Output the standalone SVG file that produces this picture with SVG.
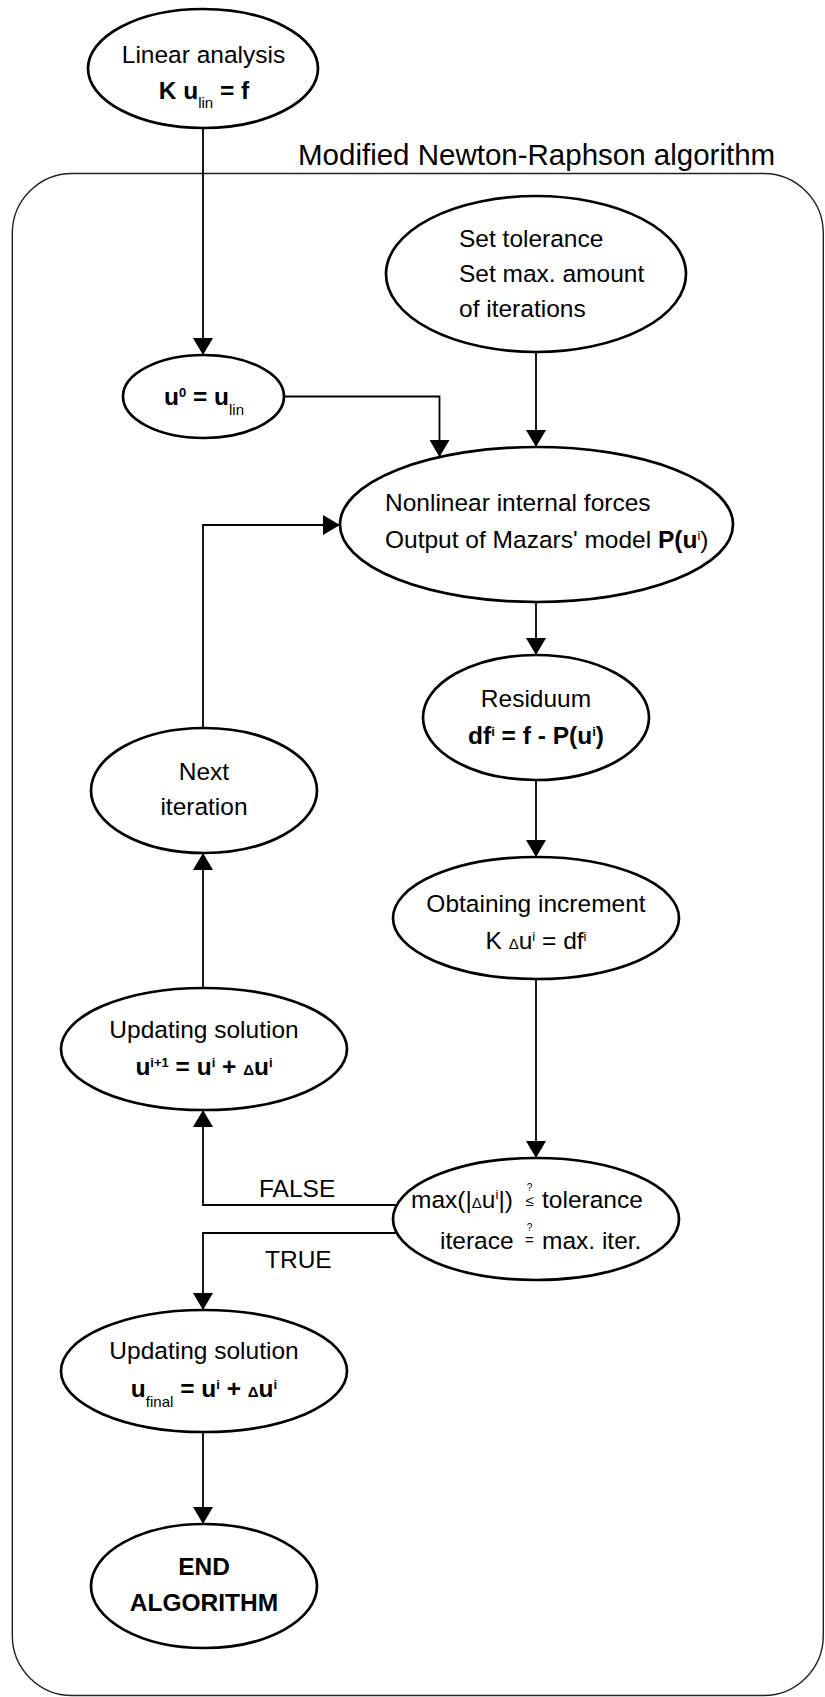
<svg xmlns="http://www.w3.org/2000/svg" width="825" height="1697" viewBox="0 0 825 1697">
<style>
text{font-family:"Liberation Sans",Arial,sans-serif;font-size:24.5px;fill:#000}
.m{text-anchor:middle}
.b{font-weight:bold}
.s{font-size:15px;font-weight:normal}
.sup{font-size:13px}
.d{font-size:15px}
.q{font-size:10px}
.title{font-size:29.5px}
ellipse{fill:#fff;stroke:#000;stroke-width:2.7}
.c{fill:none;stroke:#000;stroke-width:1.8}
.frame{fill:none;stroke:#222;stroke-width:1.4}
</style>
<defs>
<marker id="ah" markerUnits="userSpaceOnUse" markerWidth="17" markerHeight="20" viewBox="0 0 17 20" refX="17" refY="10" orient="auto">
<path d="M0,0 L17,10 L0,20 Z" fill="#000"/>
</marker>
</defs>
<g id="frame">
<rect class="frame" x="12.3" y="173.5" width="811" height="1522" rx="60" ry="60"/>
<text class="title" x="298" y="165">Modified Newton-Raphson algorithm</text>
</g>
<g id="connectors">
<path class="c" d="M203,128 V355" marker-end="url(#ah)"/>
<path class="c" d="M284,396.5 H439.5 V457" marker-end="url(#ah)"/>
<path class="c" d="M536,352 V447" marker-end="url(#ah)"/>
<path class="c" d="M536,602 V655" marker-end="url(#ah)"/>
<path class="c" d="M536,780 V857" marker-end="url(#ah)"/>
<path class="c" d="M536,979 V1158" marker-end="url(#ah)"/>
<path class="c" d="M397,1205 H203 V1110" marker-end="url(#ah)"/>
<path class="c" d="M397,1233 H203 V1310" marker-end="url(#ah)"/>
<path class="c" d="M203,988 V853" marker-end="url(#ah)"/>
<path class="c" d="M203,728 V525 H340" marker-end="url(#ah)"/>
<path class="c" d="M203,1432 V1524" marker-end="url(#ah)"/>
<text x="259" y="1197">FALSE</text>
<text x="265" y="1268">TRUE</text>
</g>
<g id="n_linear">
<ellipse cx="203" cy="68.5" rx="115" ry="59.5"/>
<text class="m" x="203.5" y="63">Linear analysis</text>
<text class="m b" x="204" y="99">K u<tspan class="s" dy="9">lin</tspan><tspan dy="-9"> = f</tspan></text>
</g>
<g id="n_set">
<ellipse cx="536" cy="274" rx="150" ry="78"/>
<text x="459" y="247">Set tolerance</text>
<text x="459" y="282">Set max. amount</text>
<text x="459" y="317">of iterations</text>
</g>
<g id="n_u0">
<ellipse cx="203.5" cy="396.5" rx="80.5" ry="41.5"/>
<text class="m b" x="204" y="405">u<tspan class="sup" dy="-8.5">0</tspan><tspan dy="8.5"> = u</tspan><tspan class="s" dy="10">lin</tspan></text>
</g>
<g id="n_nonlinear">
<ellipse cx="536.5" cy="524.5" rx="196.5" ry="77.5"/>
<text x="385" y="511">Nonlinear internal forces</text>
<text x="385" y="548">Output of Mazars' model <tspan class="b">P(u</tspan><tspan class="sup" dy="-8">i</tspan><tspan dy="8">)</tspan></text>
</g>
<g id="n_residuum">
<ellipse cx="536" cy="717.5" rx="113" ry="62.5"/>
<text class="m" x="536" y="707">Residuum</text>
<text class="m b" x="536" y="744">df<tspan class="sup" dy="-8">i</tspan><tspan dy="8"> = f - P(u</tspan><tspan class="sup" dy="-8">i</tspan><tspan dy="8">)</tspan></text>
</g>
<g id="n_next">
<ellipse cx="204" cy="790.5" rx="113" ry="62.5"/>
<text class="m" x="204" y="780">Next</text>
<text class="m" x="204" y="815">iteration</text>
</g>
<g id="n_obtain">
<ellipse cx="536" cy="918" rx="143" ry="61"/>
<text class="m" x="536" y="912">Obtaining increment</text>
<text class="m" x="536" y="949">K <tspan class="d">Δ</tspan>u<tspan class="sup" dy="-8">i</tspan><tspan dy="8"> = df</tspan><tspan class="sup" dy="-8">i</tspan></text>
</g>
<g id="n_update1">
<ellipse cx="204" cy="1049" rx="143" ry="61"/>
<text class="m" x="204" y="1038">Updating solution</text>
<text class="m b" x="204" y="1075">u<tspan class="sup" dy="-8">i+1</tspan><tspan dy="8"> = u</tspan><tspan class="sup" dy="-8">i</tspan><tspan dy="8"> + </tspan><tspan class="d">Δ</tspan>u<tspan class="sup" dy="-8">i</tspan></text>
</g>
<g id="n_decision">
<ellipse cx="536" cy="1219" rx="143" ry="61"/>
<text x="411" y="1208">max(|<tspan class="d">Δ</tspan>u<tspan class="sup" dy="-9">i</tspan><tspan dy="9">|)</tspan></text>
<text class="m" x="529.5" y="1206" style="font-size:15px">≤</text>
<text class="m q" x="529.5" y="1191">?</text>
<text x="542" y="1208">tolerance</text>
<text x="440" y="1249">iterace</text>
<text class="m" x="529.5" y="1245" style="font-size:15px">=</text>
<text class="m q" x="529.5" y="1231">?</text>
<text x="542" y="1249">max. iter.</text>
</g>
<g id="n_final">
<ellipse cx="204" cy="1371" rx="143" ry="61"/>
<text class="m" x="204" y="1359">Updating solution</text>
<text class="m b" x="204" y="1397">u<tspan class="s" dy="10">final</tspan><tspan dy="-10"> = u</tspan><tspan class="sup" dy="-8">i</tspan><tspan dy="8"> + </tspan><tspan class="d">Δ</tspan>u<tspan class="sup" dy="-8">i</tspan></text>
</g>
<g id="n_end">
<ellipse cx="204" cy="1586" rx="113" ry="62"/>
<text class="m b" x="204" y="1575">END</text>
<text class="m b" x="204" y="1611">ALGORITHM</text>
</g>
</svg>
